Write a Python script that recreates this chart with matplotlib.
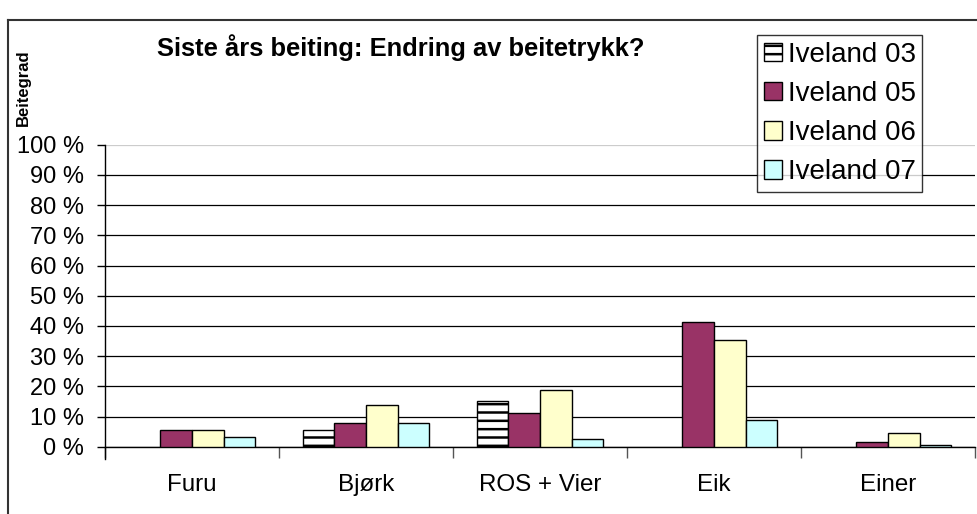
import numpy as np
import matplotlib
matplotlib.use('Agg')
import matplotlib.pyplot as plt
from matplotlib.lines import Line2D

categories = ['Furu', 'Bjørk', 'ROS + Vier', 'Eik', 'Einer']
series_names = ['Iveland 03', 'Iveland 05', 'Iveland 06', 'Iveland 07']
iveland_03 = [0, 5.5, 15.2, 0, 0]
iveland_05 = [5.5, 7.9, 11.2, 41.3, 1.7]
iveland_06 = [5.5, 13.7, 18.7, 35.3, 4.4]
iveland_07 = [3.2, 7.7, 2.4, 8.9, 0.7]
yticks = list(range(0, 101, 10))

plt.rcParams['font.family'] = ['Liberation Sans', 'DejaVu Sans']
plt.rcParams['hatch.linewidth'] = 1.8

fig = plt.figure(figsize=(9.78, 5.14), dpi=100)
ax = fig.add_axes([0.1074, 0.1309, 0.8896, 0.5876])

series = [iveland_03, iveland_05, iveland_06, iveland_07]
faces = ['white', '#993366', '#FFFFCC', '#CCFFFF']
hatches = ['--', None, None, None]
w = 1 / 5.5
x = np.arange(len(categories))
for i, (vals, fc, h, name) in enumerate(zip(series, faces, hatches, series_names)):
    # zero values draw no outline (as in Excel)
    lw = [1.0 if v > 0 else 0 for v in vals]
    ax.bar(x + (i - 1.5) * w, vals, w, color=fc, edgecolor='black', linewidth=lw,
           hatch=h, label=name, zorder=3)

ax.set_xlim(-0.5, 4.5)
ax.set_ylim(0, 100)
ax.set_yticks(yticks)
ax.set_yticklabels([f'{t} %' for t in yticks], fontsize=17)
ax.yaxis.grid(True, color='black', linewidth=0.9, zorder=0)
ax.set_axisbelow(True)
ax.set_xticks(x)
ax.set_xticklabels(categories, fontsize=17.4)
ax.tick_params(axis='x', which='major', length=0, pad=20)
ax.set_xticks(np.arange(-0.5, 5, 1), minor=True)
ax.tick_params(axis='x', which='minor', length=8, color='#555555', width=1)
ax.tick_params(axis='y', length=6, width=1, pad=9)
for s in ['top', 'right']:
    ax.spines[s].set_visible(False)
ax.spines['left'].set_bounds(-4, 100)
ax.spines['left'].set_linewidth(1)
ax.spines['bottom'].set_linewidth(1)
ax.get_ygridlines()[-1].set_color('#cccccc')

fig.text(0.41, 0.907, 'Siste års beiting: Endring av beitetrykk?', fontsize=18.4,
         fontweight='bold', ha='center', va='center')
fig.text(0.024, 0.829, 'Beitegrad', rotation=90, fontsize=12, fontweight='bold',
         ha='center', va='center')

leg = ax.legend(loc='upper left', bbox_to_anchor=(0.774, 0.932), bbox_transform=fig.transFigure,
                borderaxespad=0, fontsize=20, frameon=True, fancybox=False, edgecolor='black',
                handlelength=0.65, handleheight=0.65, handletextpad=0.2, labelspacing=0.47,
                borderpad=0.25)
leg.get_frame().set_linewidth(1)
for hdl in leg.legend_handles:
    hdl.set_linewidth(1.0)
leg.set_zorder(5)

# outer chart frame
fig.add_artist(Line2D([8 / 978, 8 / 978], [0, 1 - 20 / 514], color='#333333', linewidth=1.5))
fig.add_artist(Line2D([8 / 978, 1], [1 - 20 / 514, 1 - 20 / 514], color='#333333', linewidth=1.5))

fig.savefig('out.png', dpi=100)
